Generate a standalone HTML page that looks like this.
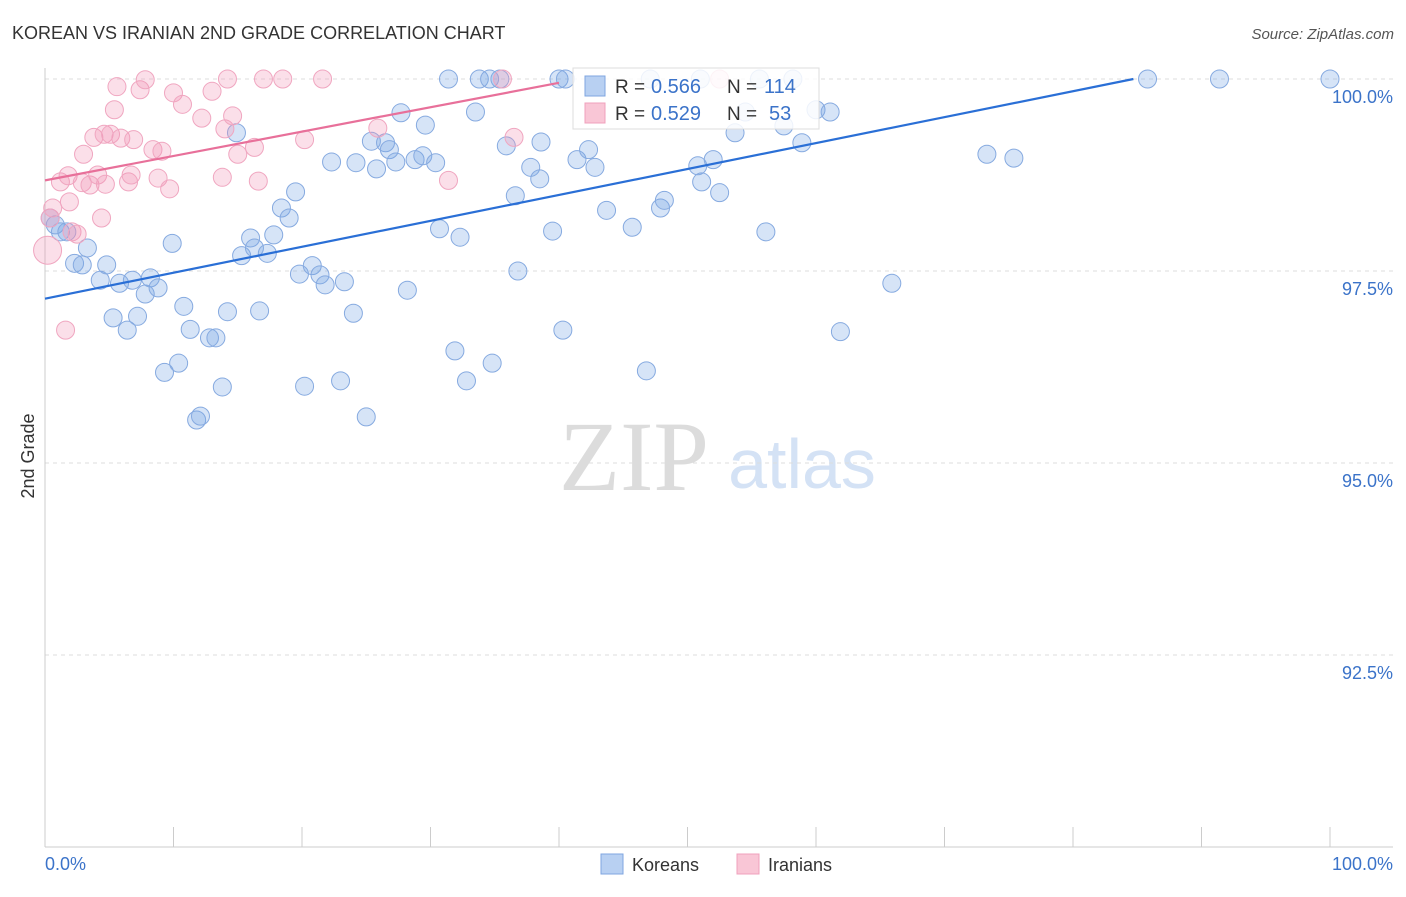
<!DOCTYPE html>
<html><head><meta charset="utf-8"><style>
body{margin:0;background:#fff;font-family:"Liberation Sans",sans-serif;}
</style></head><body>
<svg id="c" width="1406" height="892" xmlns="http://www.w3.org/2000/svg" font-family="Liberation Sans, sans-serif">
<text x="12" y="39" font-size="18" fill="#333">KOREAN VS IRANIAN 2ND GRADE CORRELATION CHART</text>
<text x="1394" y="39" font-size="15" fill="#555" text-anchor="end" font-style="italic">Source: ZipAtlas.com</text>
<text x="34" y="456" font-size="18" fill="#333" text-anchor="middle" transform="rotate(-90 34 456)">2nd Grade</text>
<g><text x="634" y="490" font-size="100" fill="#dcdcdc" style="font-family:'Liberation Serif',serif" text-anchor="middle">ZIP</text><text x="802" y="488" font-size="70" fill="#d4e2f5" text-anchor="middle">atlas</text></g>
<g id="grid"></g><g id="axes"></g><g id="pts"></g><g id="trend"></g>
<g>
<rect x="573" y="68" width="246" height="61" fill="#fff" fill-opacity="0.85" stroke="#ddd"/>
<rect x="585" y="76" width="20" height="20" fill="#b8d0f2" stroke="#7fa6e0"/>
<rect x="585" y="103" width="20" height="20" fill="#f9c6d6" stroke="#f0a0bc"/>
<text x="615" y="93" font-size="19" fill="#333">R =</text><text x="651" y="93" font-size="20" fill="#3b73c9">0.566</text>
<text x="727" y="93" font-size="19" fill="#333">N =</text><text x="764" y="93" font-size="20" fill="#3b73c9">114</text>
<text x="615" y="120" font-size="19" fill="#333">R =</text><text x="651" y="120" font-size="20" fill="#3b73c9">0.529</text>
<text x="727" y="120" font-size="19" fill="#333">N =</text><text x="769" y="120" font-size="20" fill="#3b73c9">53</text>
</g>
<g>
<rect x="601" y="854" width="22" height="20" fill="#b8d0f2" stroke="#7fa6e0"/>
<text x="632" y="871" font-size="18" fill="#333">Koreans</text>
<rect x="737" y="854" width="22" height="20" fill="#f9c6d6" stroke="#f0a0bc"/>
<text x="768" y="871" font-size="18" fill="#333">Iranians</text>
</g>
</svg>
<script>
const yTicks=[100,97.5,95,92.5];
const yTickLabels=["100.0%","97.5%","95.0%","92.5%"];
const xTicks=[0,10,20,30,40,50,60,70,80,90,100];
const korX=[0.4,0.8,1.2,1.7,2.3,2.9,3.3,4.3,4.8,5.3,5.8,6.4,6.8,7.2,7.8,8.2,8.8,9.3,9.9,10.4,10.8,11.3,11.8,12.1,12.8,13.3,13.8,14.2,14.9,15.3,16.0,16.3,16.7,17.3,17.8,18.4,19.0,19.5,19.8,20.2,20.8,21.4,21.8,22.3,23.0,23.3,24.0,24.2,25.0,25.4,25.8,26.5,26.8,27.3,27.7,28.2,28.8,29.4,29.6,30.4,30.7,31.4,31.9,32.3,32.8,33.5,33.8,34.6,34.8,35.4,35.9,36.6,36.8,37.8,38.5,38.6,39.5,40.0,40.3,40.5,41.4,42.3,42.8,43.7,45.7,46.8,47.1,47.9,48.2,50.8,51.0,51.1,52.0,52.5,53.7,54.5,55.6,56.1,57.5,58.2,58.9,60.0,61.1,61.9,65.9,73.3,75.4,85.8,91.4,100];
const korY=[98.19,98.10,98.01,98.01,97.60,97.58,97.80,97.38,97.58,96.89,97.34,96.73,97.38,96.91,97.20,97.41,97.28,96.18,97.86,96.30,97.04,96.74,95.56,95.61,96.63,96.63,95.99,96.97,99.30,97.70,97.93,97.80,96.98,97.73,97.97,98.32,98.19,98.53,97.46,96.00,97.57,97.45,97.32,98.92,96.07,97.36,96.95,98.91,95.60,99.19,98.83,99.17,99.08,98.92,99.56,97.25,98.95,99.00,99.40,98.91,98.05,100,96.46,97.94,96.07,99.57,100,100,96.30,100,99.13,98.48,97.50,98.85,98.70,99.18,98.02,100,96.73,100,98.95,99.08,98.85,98.29,98.07,96.20,100,98.32,98.42,98.87,100,98.66,98.95,98.52,99.30,99.57,100,98.01,99.39,100,99.17,99.60,99.57,96.71,97.34,99.02,98.97,100,100,100];
const iraX=[0.2,0.4,0.6,1.2,1.6,1.8,1.9,2.1,2.5,2.9,3.0,3.5,3.8,4.1,4.4,4.6,4.7,5.1,5.4,5.6,5.9,6.5,6.7,6.9,7.4,7.8,8.4,8.8,9.1,9.7,10.0,10.7,12.2,13.0,13.8,14.0,14.2,14.6,15.0,16.3,16.6,17.0,18.5,20.2,21.6,25.9,31.4,35.6,36.5,52.5];
const iraY=[97.77,98.19,98.32,98.66,96.73,98.74,98.40,98.01,97.98,98.65,99.02,98.62,99.24,98.75,98.19,99.28,98.63,99.28,99.60,99.90,99.23,98.66,98.75,99.21,99.86,99.99,99.08,98.71,99.06,98.57,99.82,99.67,99.49,99.84,98.72,99.35,100,99.52,99.02,99.11,98.67,100,100,99.21,100,99.36,98.68,100,99.24,100];
const korTrendX=[0,84.7],korTrendY=[97.14,100];
const iraTrendX=[0,40],iraTrendY=[98.68,99.95];
const NS="http://www.w3.org/2000/svg";
const sx=v=>45+v*12.85, sy=v=>79+(100-v)*76.8;
function mk(t,a,p){const e=document.createElementNS(NS,t);for(const k in a)e.setAttribute(k,a[k]);p.appendChild(e);return e;}
const grid=document.getElementById('grid'),axes=document.getElementById('axes'),pts=document.getElementById('pts'),tr=document.getElementById('trend');
yTicks.forEach((v,i)=>{
 const l=mk('line',{x1:45,x2:1393,y1:sy(v),y2:sy(v),stroke:'#ddd','stroke-dasharray':'4,4'},grid);
 
 
 const t=mk('text',{x:1393,y:sy(v)+24,'font-size':18,fill:'#3b73c9','text-anchor':'end'},axes);t.textContent=yTickLabels[i];
 
 
});
mk('line',{x1:45,x2:45,y1:68,y2:847,stroke:'#ccc'},axes);
mk('line',{x1:45,x2:1393,y1:847,y2:847,stroke:'#ccc'},axes);
xTicks.forEach(v=>{const l=mk('line',{x1:sx(v),x2:sx(v),y1:827,y2:847,stroke:'#ccc'},axes);
 
 });
let t0=mk('text',{x:45,y:870,'font-size':18,fill:'#3b73c9'},axes);t0.textContent='0.0%';


let t1=mk('text',{x:1393,y:870,'font-size':18,fill:'#3b73c9','text-anchor':'end'},axes);t1.textContent='100.0%';


korX.forEach((x,i)=>{const c=mk('circle',{cx:sx(x),cy:sy(korY[i]),r:9,fill:'rgba(120,165,230,0.3)',stroke:'#86aae0','stroke-width':1},pts);
 
 });
iraX.forEach((x,i)=>{const c=mk('circle',{cx:sx(x),cy:sy(iraY[i]),r:i==0?14:9,fill:'rgba(242,150,182,0.3)',stroke:'#f0a6c0','stroke-width':1},pts);
 
 });
const lk=mk('line',{x1:sx(korTrendX[0]),y1:sy(korTrendY[0]),x2:sx(korTrendX[1]),y2:sy(korTrendY[1]),stroke:'#2a6fd6','stroke-width':2.2},tr);


const li=mk('line',{x1:sx(iraTrendX[0]),y1:sy(iraTrendY[0]),x2:sx(iraTrendX[1]),y2:sy(iraTrendY[1]),stroke:'#e8709a','stroke-width':2.2},tr);


</script>
</body></html>
